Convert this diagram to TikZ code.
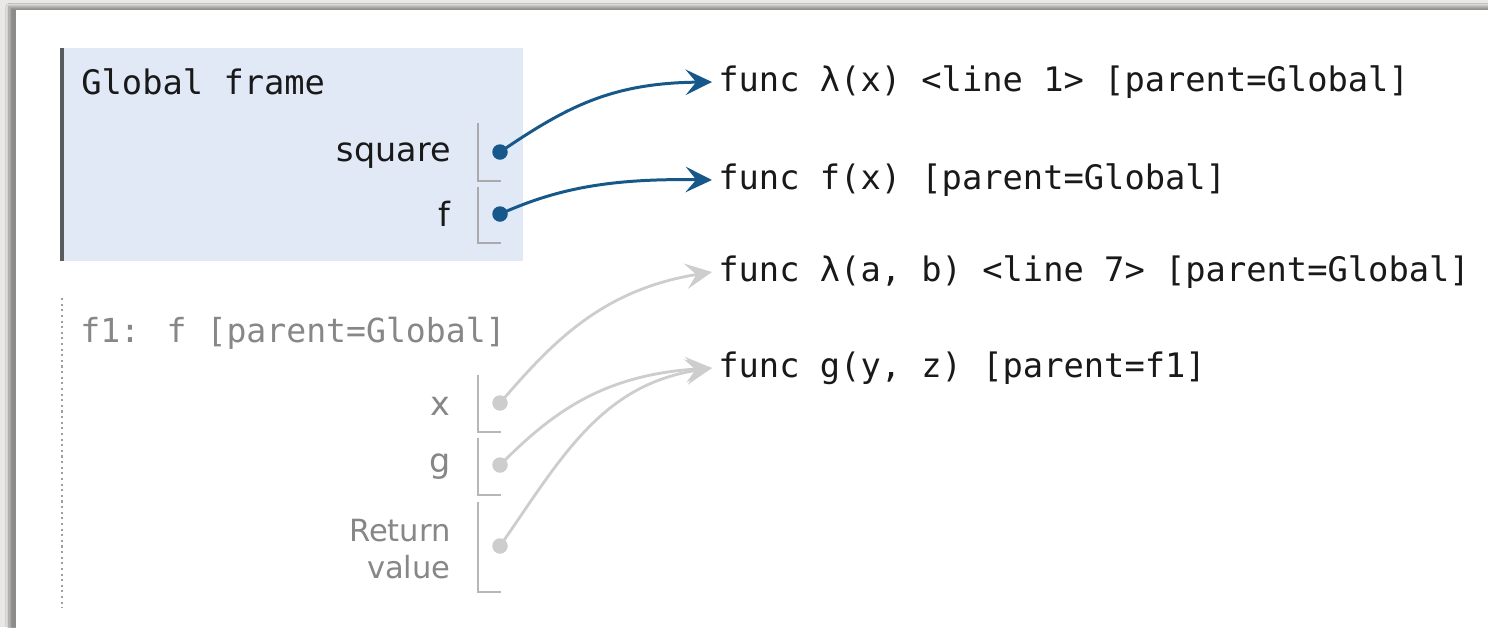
\documentclass[tikz,border=0pt]{standalone}
\usepackage{fontspec}
\newfontfamily\monof{DejaVu Sans Mono}
\newfontfamily\sansf{DejaVu Sans}
\usetikzlibrary{arrows.meta,shadows.blur}

\definecolor{pagebg}{RGB}{234,232,230}
\definecolor{framefill}{RGB}{226,233,246}
\definecolor{framebar}{RGB}{88,92,96}
\definecolor{ptrblue}{RGB}{22,88,138}
\definecolor{ptrgray}{RGB}{205,205,205}
\definecolor{slotline}{RGB}{170,170,170}
\definecolor{fadetext}{RGB}{135,135,135}
\definecolor{inktext}{RGB}{25,25,25}

\tikzset{
  codetext/.style={font=\monof\fontsize{19.2}{23}\selectfont, text=inktext, inner sep=0pt},
  heaptext/.style={codetext, anchor=west, inner xsep=0.12cm, inner ysep=0pt},
  vartext/.style={font=\sansf\fontsize{19}{23}\selectfont, text=inktext, anchor=east, inner sep=0pt},
  slot/.style={draw=slotline, line width=1.1pt},
  bdot/.style={circle, fill=ptrblue, inner sep=0pt, minimum size=0.31cm},
  gdot/.style={circle, fill=ptrgray, inner sep=0pt, minimum size=0.31cm},
  ptrhead/.style={-{Stealth[length=15pt,width=14.5pt,inset=6pt]}},
  bptr/.style={draw=ptrblue, line width=1.7pt, ptrhead},
  gptr/.style={draw=ptrgray, line width=1.6pt, ptrhead},
}

\begin{document}
\begin{tikzpicture}[x=0.02cm, y=-0.02cm]
  \useasboundingbox (0,0) rectangle (1488,627);
  % backdrop and white card
  \fill[pagebg] (0,0) rectangle (1488,627);
  \fill[white, blur shadow={shadow xshift=-4pt, shadow yshift=2pt, shadow blur steps=12, shadow opacity=40}]
    (16,10) rectangle (1520,660);

  % global frame
  \fill[framefill] (60,48) rectangle (523,261);
  \fill[framebar] (60,48) rectangle (64,261);
  \node[codetext, anchor=west] (gtitle) at (81,82) {Global frame};
  \node[vartext] (vsquare) at (451,156) {square};
  \node[vartext] (vf) at (451,214) {f};
  \draw[slot] (478,123) -- (478,181) -- (501,181);
  \draw[slot] (478,187) -- (478,243) -- (501,243);
  \coordinate (csquare) at (500,152);
  \coordinate (cf) at (500,214);

  % f1 frame
  \draw[fadetext!80, line width=1.2pt, dotted] (62,298) -- (62,608);
  \node[codetext, text=fadetext, anchor=west, font=\monof\fontsize{18.85}{23}\selectfont] (ftitle) at (80,333) {f1: f [parent=Global]};
  \node[vartext, text=fadetext] (vx) at (451,406) {x};
  \node[vartext, text=fadetext] (vg) at (451,467) {g};
  \node[vartext, text=fadetext, font=\sansf\fontsize{17.4}{21.5}\selectfont, align=right] (vret) at (451,549) {Return\\value};
  \draw[slot, draw=slotline!85] (478,375) -- (478,432) -- (501,432);
  \draw[slot, draw=slotline!85] (478,438) -- (478,495) -- (501,495);
  \draw[slot, draw=slotline!85] (478,502) -- (478,592) -- (501,592);
  \coordinate (cx) at (500,403);
  \coordinate (cg) at (500,465);
  \coordinate (cret) at (500,546);

  % heap objects
  \node[heaptext] (lam1) at (712,82) {func λ(x) <line 1> [parent=Global]};
  \node[heaptext] (funcf) at (712,180) {func f(x) [parent=Global]};
  \node[heaptext] (lam7) at (712,272) {func λ(a, b) <line 7> [parent=Global]};
  \node[heaptext] (funcg) at (712,368) {func g(y, z) [parent=f1]};

  % pointers from the f1 frame
  \draw[gptr] (cx) .. controls (550,345) and (600,290) .. (lam7.west);
  \draw[gptr] (cg) .. controls (550,415) and (600,375) .. (funcg.west);
  \draw[gptr] (cret) .. controls (560,460) and (600,385) .. (funcg.west);

  % pointers from the global frame
  \draw[bptr] (csquare) .. controls (565,108) and (610,83) .. (lam1.west);
  \draw[bptr] (cf) .. controls (550,192) and (600,178) .. (funcf.west);

  % pointer origins drawn on top of the lines
  \node[bdot] (psquare) at (csquare) {};
  \node[bdot] (pf) at (cf) {};
  \node[gdot] (px) at (cx) {};
  \node[gdot] (pg) at (cg) {};
  \node[gdot] (pret) at (cret) {};
\end{tikzpicture}
\end{document}
